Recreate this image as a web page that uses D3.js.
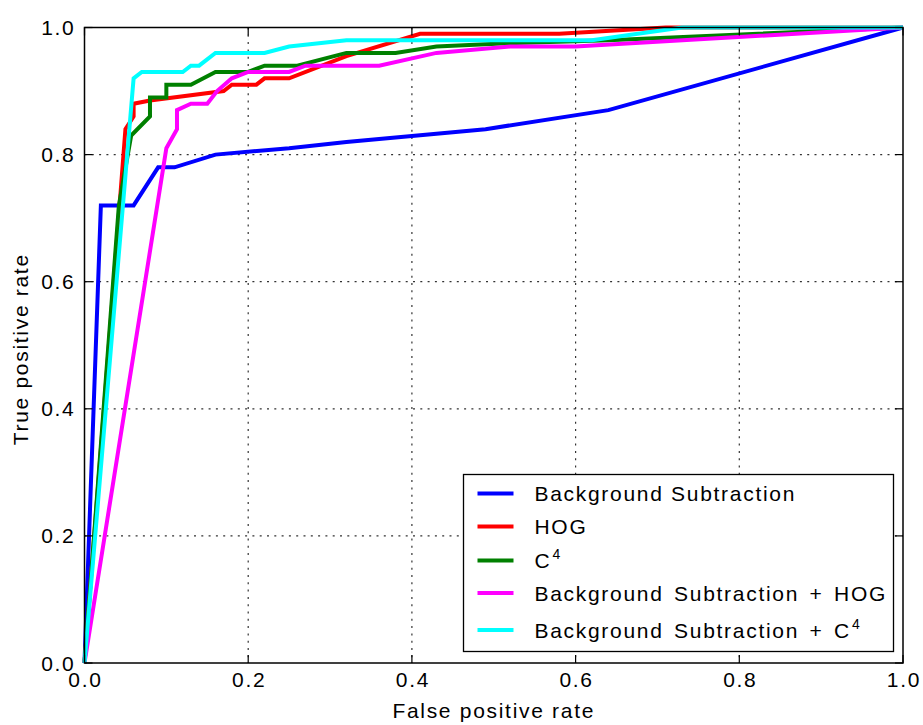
<!DOCTYPE html>
<html lang="en">
<head>
    <meta charset="UTF-8">
    <script src="https://d3js.org/d3.v7.min.js"></script>
    <style>
        body { margin: 0; background: #fff; }
        text {
            font-family: "Liberation Sans", Arial, sans-serif;
            font-size: 21px;
            letter-spacing: 1.7px;
            fill: #000;
        }
        .grid line {
            stroke: #333;
            stroke-width: 1.2px;
            stroke-dasharray: 2,5.3;
        }
        .frame {
            fill: none;
            stroke: #000;
            stroke-width: 1.5px;
        }
        .tick-mark {
            stroke: #000;
            stroke-width: 1.2px;
        }
        .curve {
            fill: none;
            stroke-width: 4px;
            stroke-linejoin: miter;
        }
        .legend rect {
            fill: #fff;
            stroke: #000;
            stroke-width: 1.3px;
        }
        .legend .wide { word-spacing: 3px; }
    </style>
    <title>ROC curves</title>
</head>
<body>
    <svg id="chart" width="923" height="725"></svg>
    <script>
        // values
        const ticks = [0.0, 0.2, 0.4, 0.6, 0.8, 1.0];
        const tickLabels = ["0.0", "0.2", "0.4", "0.6", "0.8", "1.0"];
        const seriesNames = ["Background Subtraction", "HOG", "C4", "Background Subtraction + HOG", "Background Subtraction + C4"];
        const seriesColors = ["#0000ff", "#ff0000", "#008000", "#ff00ff", "#00ffff"];

        const bgFpr = [0, 0.02, 0.06, 0.09, 0.11, 0.16, 0.25, 0.32, 0.49, 0.64, 1];
        const bgTpr = [0, 0.72, 0.72, 0.78, 0.78, 0.80, 0.81, 0.82, 0.84, 0.87, 1];

        const hogFpr = [0, 0.05, 0.06, 0.06, 0.08, 0.17, 0.18, 0.21, 0.22, 0.25, 0.32, 0.41, 0.58, 0.71, 1];
        const hogTpr = [0, 0.84, 0.86, 0.88, 0.885, 0.90, 0.91, 0.91, 0.92, 0.92, 0.955, 0.99, 0.99, 1, 1];

        const c4Fpr = [0, 0.042, 0.057, 0.08, 0.08, 0.10, 0.10, 0.13, 0.16, 0.20, 0.22, 0.26, 0.32, 0.38, 0.43, 0.51, 0.64, 1];
        const c4Tpr = [0, 0.72, 0.83, 0.86, 0.89, 0.89, 0.91, 0.91, 0.93, 0.93, 0.94, 0.94, 0.96, 0.96, 0.97, 0.975, 0.98, 1];

        const bgHogFpr = [0, 0.10, 0.113, 0.113, 0.13, 0.15, 0.162, 0.18, 0.20, 0.25, 0.27, 0.36, 0.43, 0.52, 0.60, 1];
        const bgHogTpr = [0, 0.81, 0.84, 0.87, 0.88, 0.88, 0.90, 0.92, 0.93, 0.93, 0.94, 0.94, 0.96, 0.97, 0.97, 1];

        const bgC4Fpr = [0, 0.06, 0.07, 0.12, 0.13, 0.14, 0.16, 0.22, 0.25, 0.32, 0.62, 0.73, 1];
        const bgC4Tpr = [0, 0.92, 0.93, 0.93, 0.94, 0.94, 0.96, 0.96, 0.97, 0.98, 0.98, 1, 1];

        const series = [
            [bgFpr, bgTpr], [hogFpr, hogTpr], [c4Fpr, c4Tpr], [bgHogFpr, bgHogTpr], [bgC4Fpr, bgC4Tpr]
        ].map((s, i) => ({
            name: seriesNames[i],
            color: seriesColors[i],
            points: s[0].map((x, j) => [x, s[1][j]])
        }));

        const svg = d3.select("#chart");
        const margin = { top: 27.5, right: 20, bottom: 62, left: 84.5 };
        const width = +svg.attr("width") - margin.left - margin.right;
        const height = +svg.attr("height") - margin.top - margin.bottom;

        const x = d3.scaleLinear().domain([0, 1]).range([0, width]);
        const y = d3.scaleLinear().domain([0, 1]).range([height, 0]);

        const g = svg.append("g")
            .attr("transform", "translate(" + margin.left + "," + margin.top + ")");

        // dotted grid
        const grid = g.append("g").attr("class", "grid");
        grid.selectAll(".vx").data(ticks.slice(1, -1)).enter().append("line")
            .attr("x1", d => x(d)).attr("x2", d => x(d))
            .attr("y1", 0).attr("y2", height);
        grid.selectAll(".hy").data(ticks.slice(1, -1)).enter().append("line")
            .attr("x1", 0).attr("x2", width)
            .attr("y1", d => y(d)).attr("y2", d => y(d));

        // curves
        const line = d3.line().x(d => x(d[0])).y(d => y(d[1]));
        g.selectAll(".curve").data(series).enter().append("path")
            .attr("class", "curve")
            .attr("stroke", d => d.color)
            .attr("d", d => line(d.points));

        // inward ticks on all four sides
        const tl = 8;
        const marks = g.append("g");
        ticks.forEach(t => {
            marks.append("line").attr("class", "tick-mark")
                .attr("x1", x(t)).attr("x2", x(t)).attr("y1", height).attr("y2", height - tl);
            marks.append("line").attr("class", "tick-mark")
                .attr("x1", x(t)).attr("x2", x(t)).attr("y1", 0).attr("y2", tl);
            marks.append("line").attr("class", "tick-mark")
                .attr("x1", 0).attr("x2", tl).attr("y1", y(t)).attr("y2", y(t));
            marks.append("line").attr("class", "tick-mark")
                .attr("x1", width).attr("x2", width - tl).attr("y1", y(t)).attr("y2", y(t));
        });

        // tick labels
        g.selectAll(".xl").data(ticks).enter().append("text")
            .attr("x", d => x(d) + 1)
            .attr("y", height + 24)
            .attr("text-anchor", "middle")
            .text((d, i) => tickLabels[i]);
        g.selectAll(".yl").data(ticks).enter().append("text")
            .attr("x", -9)
            .attr("y", d => y(d) + 7.5)
            .attr("text-anchor", "end")
            .text((d, i) => tickLabels[i]);

        // legend
        const legend = g.append("g").attr("class", "legend");
        legend.append("rect")
            .attr("x", 463.5 - margin.left).attr("y", 474.5 - margin.top)
            .attr("width", 430).attr("height", 177);
        const rowY = [493.5, 526.5, 560.5, 593, 630];
        series.forEach((s, i) => {
            const ry = rowY[i] - margin.top;
            legend.append("line")
                .attr("x1", 477.5 - margin.left).attr("x2", 513.5 - margin.left)
                .attr("y1", ry).attr("y2", ry)
                .attr("stroke", s.color).attr("stroke-width", 4);
            const txt = legend.append("text")
                .attr("class", s.name.includes("+") ? "wide" : null)
                .attr("x", 534.5 - margin.left).attr("y", ry + 7.5);
            if (s.name.endsWith("C4")) {
                txt.append("tspan").text(s.name.slice(0, -1));
                txt.append("tspan").text("4")
                    .attr("font-size", "14px").attr("dy", -9).attr("dx", 1);
            } else {
                txt.text(s.name);
            }
        });

        // frame
        g.append("rect").attr("class", "frame")
            .attr("x", 0).attr("y", 0).attr("width", width).attr("height", height);

        // axis titles
        svg.append("text")
            .attr("x", margin.left + width / 2)
            .attr("y", 718)
            .attr("text-anchor", "middle")
            .text("False positive rate");
        svg.append("text")
            .attr("transform", "translate(28," + (margin.top + height / 2 + 4) + ") rotate(-90)")
            .attr("text-anchor", "middle")
            .text("True positive rate");
    </script>
</body>
</html>
